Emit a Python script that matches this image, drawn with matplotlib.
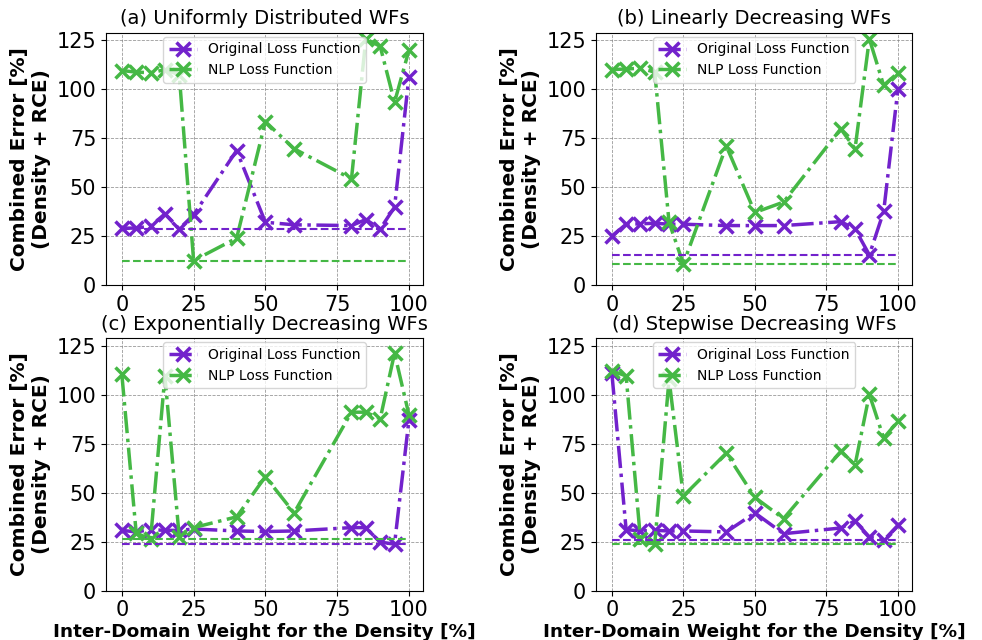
import matplotlib
matplotlib.use("Agg")
import matplotlib.pyplot as plt
import numpy as np

weights = [0, 5, 10, 15, 20, 25, 40, 50, 60, 80, 85, 90, 95, 100]

titles = ["(a) Uniformly Distributed WFs", "(b) Linearly Decreasing WFs",
          "(c) Exponentially Decreasing WFs", "(d) Stepwise Decreasing WFs"]

orig_a = [29.0, 29.0, 30.0, 36.3, 28.6, 35.8, 68.7, 32.0, 30.7, 30.3, 33.4, 28.6, 39.7, 106.2]
nlp_a = [109.6, 108.8, 108.5, 110.0, 107.5, 12.4, 23.9, 83.5, 69.6, 54.2, 125.8, 122.0, 93.4, 119.9]

orig_b = [24.9, 31.0, 31.2, 31.5, 31.0, 31.0, 30.3, 30.3, 30.3, 32.3, 28.6, 15.3, 37.5, 100.3]
nlp_b = [110.1, 110.4, 110.8, 108.8, 32.0, 10.7, 71.0, 37.0, 42.3, 79.8, 69.6, 125.8, 102.0, 108.5]

orig_c = [30.8, 30.0, 31.2, 30.8, 30.8, 31.5, 30.5, 30.2, 30.5, 32.2, 32.2, 24.8, 23.8, 87.0]
nlp_c = [110.4, 29.5, 26.2, 109.6, 27.4, 32.2, 37.7, 58.2, 39.7, 91.1, 91.1, 87.7, 121.2, 89.9]

orig_d = [111.3, 31.2, 30.5, 30.8, 30.5, 30.5, 30.0, 39.7, 29.1, 32.0, 35.6, 27.4, 25.7, 33.4]
nlp_d = [112.2, 109.6, 26.5, 24.0, 107.9, 48.3, 70.2, 47.6, 36.8, 71.1, 64.2, 100.2, 77.9, 86.5]

orig_all = [orig_a, orig_b, orig_c, orig_d]
nlp_all = [nlp_a, nlp_b, nlp_c, nlp_d]

purple = "#7222CC"
green = "#45B845"

fig = plt.figure(figsize=(9.82, 6.40), dpi=100)
positions = [
    [0.108, 0.555, 0.323, 0.394],
    [0.607, 0.555, 0.322, 0.394],
    [0.108, 0.077, 0.323, 0.395],
    [0.607, 0.077, 0.322, 0.395],
]

for i in range(4):
    ax = fig.add_axes(positions[i])
    o = orig_all[i]
    n = nlp_all[i]
    ax.plot(weights, o, linestyle='-.', marker='x', color=purple, lw=2.5,
            ms=10.5, mew=2.5, label='Original Loss Function')
    ax.plot(weights, n, linestyle='-.', marker='x', color=green, lw=2.5,
            ms=10.5, mew=2.5, label='NLP Loss Function')
    ax.hlines(min(o), weights[0], weights[-1], colors=purple, linestyles='--', lw=1.5)
    ax.hlines(min(n), weights[0], weights[-1], colors=green, linestyles='--', lw=1.5)
    ax.set_xlim(-5.5, 105)
    ax.set_ylim(0, 129)
    ax.set_xticks([0, 25, 50, 75, 100])
    ax.set_yticks([0, 25, 50, 75, 100, 125])
    ax.tick_params(labelsize=15)
    ax.grid(True, linestyle='--', linewidth=0.6, color='gray', alpha=0.8)
    ax.set_title(titles[i], fontsize=14)
    ax.set_ylabel("Combined Error [%]\n(Density + RCE)", fontsize=14.5,
                  fontweight='bold', labelpad=4)
    if i >= 2:
        ax.set_xlabel("Inter-Domain Weight for the Density [%]", fontsize=13.3,
                      fontweight='bold', labelpad=2)
    ax.legend(loc='upper center', fontsize=10, borderaxespad=0.3)

fig.savefig("out.png", dpi=100)
